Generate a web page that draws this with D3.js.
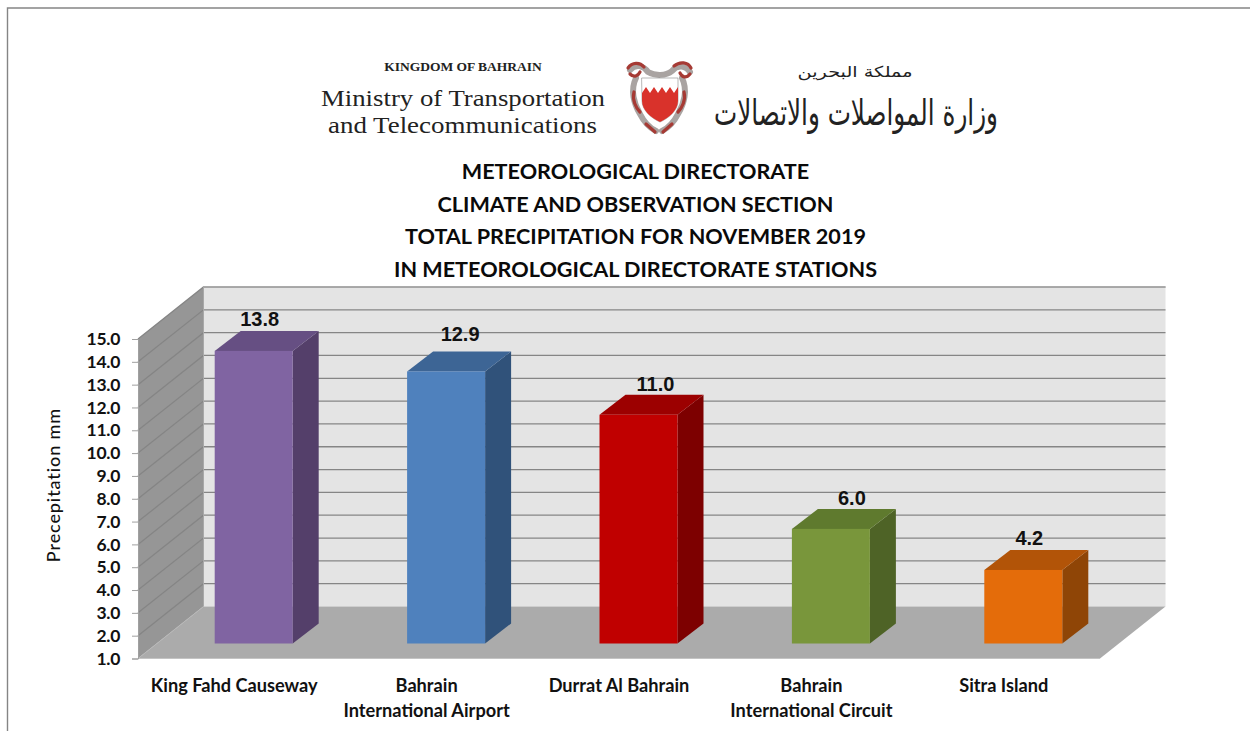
<!DOCTYPE html>
<html>
<head>
<meta charset="utf-8">
<script src="https://cdn.jsdelivr.net/npm/d3@7/dist/d3.min.js"></script>
<style>
html,body{margin:0;padding:0;background:#fff;overflow:hidden}
svg{display:block}
</style>
</head>
<body>
<svg id="chart" width="1250" height="731"></svg>
<script>
const categories = [["King Fahd Causeway"],["Bahrain","International Airport"],["Durrat Al Bahrain"],["Bahrain","International Circuit"],["Sitra Island"]];
const values = [13.8,12.9,11.0,6.0,4.2];
const faceColors = ["#8064a2","#4f81bd","#c00000","#79963b","#e46c0a"];
const topColors = ["#664f83","#3d6595","#9c0000","#5f7a2e","#b25408"];
const sideColors = ["#543f6a","#30527a","#7d0000","#4e6326","#8f4506"];
const yTicks = [1,2,3,4,5,6,7,8,9,10,11,12,13,14,15];
const titleLines = ["METEOROLOGICAL DIRECTORATE","CLIMATE AND OBSERVATION SECTION","TOTAL PRECIPITATION FOR NOVEMBER 2019","IN METEOROLOGICAL DIRECTORATE STATIONS"];
const yAxisLabel = "Precepitation mm";

const svg = d3.select("#chart");
const latin = "Lato, 'Open Sans', sans-serif";

// page frame
svg.append("path").attr("d","M7.5,731V8H1250").attr("fill","none").attr("stroke","#858585").attr("stroke-width",1.4);

// letterhead
const head = svg.append("g").attr("font-family","'Liberation Serif',serif").attr("fill","#222");
head.append("text").attr("x",463).attr("y",71).attr("text-anchor","middle").attr("font-size",13.5).attr("font-weight","bold").text("KINGDOM OF BAHRAIN");
head.append("text").attr("x",463).attr("y",106).attr("text-anchor","middle").attr("font-size",24).attr("textLength",284).attr("lengthAdjust","spacingAndGlyphs").text("Ministry of Transportation");
head.append("text").attr("x",462.5).attr("y",132.8).attr("text-anchor","middle").attr("font-size",24).attr("textLength",269).attr("lengthAdjust","spacingAndGlyphs").text("and Telecommunications");
const ar = svg.append("g").attr("font-family","'DejaVu Sans',sans-serif").attr("fill","#222").attr("direction","rtl");
ar.append("text").attr("x",855).attr("y",77).attr("text-anchor","middle").attr("font-size",15).attr("textLength",115).attr("lengthAdjust","spacingAndGlyphs").text("مملكة البحرين");
ar.append("text").attr("x",856).attr("y",125).attr("text-anchor","middle").attr("font-size",36).attr("textLength",284).attr("lengthAdjust","spacingAndGlyphs").text("وزارة المواصلات والاتصالات");

// crest
const crest = svg.append("g").attr("fill","none").attr("stroke-linecap","round");
const mantleGrey = ["M630,70C636,63 644,66 648,72C655,76 666,76 672,71C678,64 686,66 690,72","M636,78C630,90 634,104 640,114C644,122 650,128 656,131","M682,78C688,90 684,104 678,114C674,122 668,128 662,131"];
const mantleRed = ["M628,68C632,62 640,62 644,67","M630,74C634,78 638,76 640,72","M674,66C680,61 688,62 691,68","M690,74C686,79 682,77 680,73","M634,92C632,100 636,108 640,112","M684,92C686,100 682,108 678,112","M646,124L655,132","M672,124L663,132"];
mantleGrey.forEach(d=>crest.append("path").attr("d",d).attr("stroke","#a9a3a1").attr("stroke-width",6));
mantleRed.forEach(d=>crest.append("path").attr("d",d).attr("stroke","#a63a34").attr("stroke-width",3.2));
crest.append("path").attr("d","M642,78H678V101C678,110 669,118 660,122C651,118 642,110 642,101Z").attr("fill","#fff").attr("stroke","#888").attr("stroke-width",0.6);
crest.append("path").attr("d","M642,93L646,87L650,93L654,87L658,93L662,87L666,93L670,87L674,93L678,87V101C678,110 669,118 660,122C651,118 642,110 642,101Z").attr("fill","#d9322b");

// title
svg.append("g").attr("font-family",latin).attr("font-weight","bold").attr("font-size",21.6).attr("fill","#0a0a0a").attr("text-anchor","middle")
  .selectAll("text").data(titleLines).join("text")
  .attr("x",635.5).attr("y",(d,i)=>179+i*32.7).text(d=>d);

// scales
const y = d3.scaleLinear().domain([1,15]).range([658.5,339]);
const x = d3.scaleBand().domain(d3.range(categories.length)).range([138,1100]);
const depthX = 65.5, depthY = -52;            // wall offset
const barShiftX = 19.5, barShiftY = -15.5;    // bar sits inside the depth
const barDepthX = 26, barDepthY = -20;
const barW = 78;
const labelDX = [6,14,17,21,6], labelDY = [0,-5,1,1,0];
const xL = x.range()[0], xR = x.range()[1];
const poly = pts => "M"+pts.map(p=>p.join(",")).join("L")+"Z";

// back wall
svg.append("path").attr("d",poly([[xL+depthX,y(15)+depthY],[xR+depthX,y(15)+depthY],[xR+depthX,y(1)+depthY],[xL+depthX,y(1)+depthY]])).attr("fill","#e4e4e4");
// side wall
svg.append("path").attr("d",poly([[xL,y(15)],[xL+depthX,y(15)+depthY],[xL+depthX,y(1)+depthY],[xL,y(1)]])).attr("fill","#969696");
// floor
svg.append("path").attr("d",poly([[xL,y(1)],[xL+depthX,y(1)+depthY],[xR+depthX,y(1)+depthY],[xR,y(1)]])).attr("fill","#ababab");

// gridlines
const grid = svg.append("g").attr("fill","none");
yTicks.slice(1).forEach(t=>{
  grid.append("path").attr("d",`M${xL},${y(t)}L${xL+depthX},${y(t)+depthY}L${xR+depthX},${y(t)+depthY}`)
    .attr("stroke","#858585").attr("stroke-width",1.3);
});
grid.append("path").attr("d",`M${xL+depthX},${y(15)+depthY}H${xR+depthX}`).attr("stroke","#b0b0b0");
grid.append("path").attr("d",`M${xL+depthX},${y(15)+depthY}V${y(1)+depthY}`).attr("stroke","#a8a8a8");
grid.append("path").attr("d",`M${xL},${y(1)}L${xL+depthX},${y(1)+depthY}`).attr("stroke","#b8b8b8");
grid.append("path").attr("d",`M${xL},${y(1)}H${xR}`).attr("stroke","#c4c4c4");

// y axis
const yAxis = d3.axisLeft(y).tickValues(yTicks).tickFormat(d3.format(".1f")).tickSize(6).tickPadding(12);
const yg = svg.append("g").attr("transform",`translate(${xL},0)`).call(yAxis);
yg.select(".domain").attr("stroke","#a0a0a0");
yg.selectAll(".tick line").attr("stroke","#a0a0a0");
yg.selectAll("text").attr("font-family",latin).attr("font-weight","bold").attr("font-size",17.5).attr("letter-spacing",-0.3).attr("fill","#111");

svg.append("text").attr("transform","translate(60,485) rotate(-90)").attr("text-anchor","middle")
  .attr("font-family",latin).attr("font-size",18).attr("font-weight","500").attr("letter-spacing",0.9).attr("fill","#111").text(yAxisLabel);

// bars
const bars = svg.append("g").selectAll("g").data(values).join("g");
const bx = (i)=> x(i)+x.bandwidth()/2 - barW/2 + barShiftX;
const by = (v)=> y(v)+barShiftY;
const y0 = y(1)+barShiftY+0.5;
bars.append("path").attr("d",(v,i)=>poly([[bx(i)+barW,by(v)],[bx(i)+barW+barDepthX,by(v)+barDepthY],[bx(i)+barW+barDepthX,y0+barDepthY],[bx(i)+barW,y0]])).attr("fill",(v,i)=>sideColors[i]);
bars.append("path").attr("d",(v,i)=>poly([[bx(i),by(v)],[bx(i)+barDepthX,by(v)+barDepthY],[bx(i)+barW+barDepthX,by(v)+barDepthY],[bx(i)+barW,by(v)]])).attr("fill",(v,i)=>topColors[i]);
bars.append("rect").attr("x",(v,i)=>bx(i)).attr("y",v=>by(v)).attr("width",barW).attr("height",v=>y0-by(v)).attr("fill",(v,i)=>faceColors[i]);

// value labels
bars.append("text").attr("x",(v,i)=>bx(i)+barW/2+labelDX[i]).attr("y",(v,i)=>by(v)-25+labelDY[i])
  .attr("text-anchor","middle").attr("font-family","'Liberation Sans',sans-serif").attr("font-weight","bold").attr("font-size",20).attr("fill","#111")
  .text(v=>d3.format(".1f")(v));

// category labels
const cats = svg.append("g").attr("font-family",latin).attr("font-weight","bold").attr("font-size",18.2).attr("fill","#111").attr("text-anchor","middle");
categories.forEach((c,i)=>{
  c.forEach((line,j)=>{
    cats.append("text").attr("x",x(i)+x.bandwidth()/2).attr("y",692+j*25).text(line);
  });
});
</script>
</body>
</html>
